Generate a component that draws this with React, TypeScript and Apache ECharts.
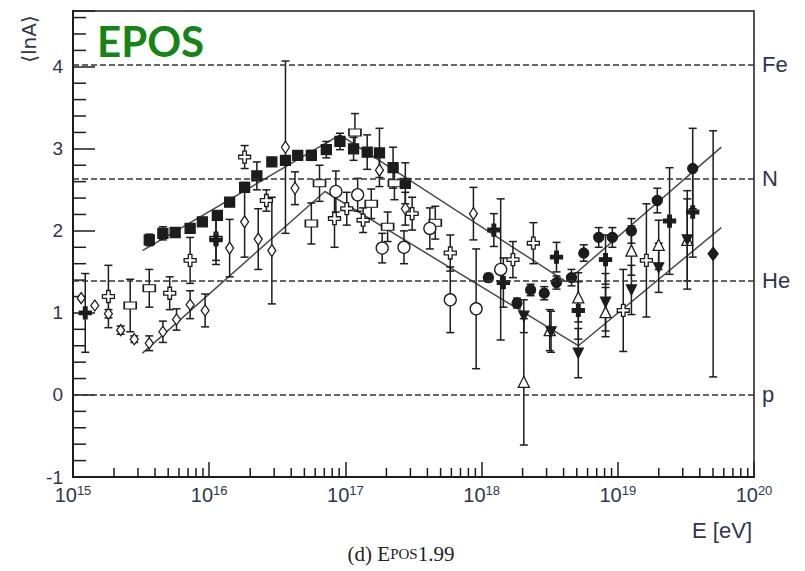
import React, { useEffect, useRef } from "react";
import * as echarts from "echarts";

// x values are log10(E / eV), y values are <lnA>, third entry is the error half-width
const xDecades = [15, 16, 17, 18, 19, 20];
const yTickValues = [-1, 0, 1, 2, 3, 4];
const compositionNames = ["Fe", "N", "He", "p"];
const compositionLnA = [4.025, 2.639, 1.386, 0];

const upperModel = [
  [15.51, 1.76],
  [16.96, 3.17],
  [18.62, 1.38],
  [19.76, 3.02],
];
const lowerModel = [
  [15.51, 0.51],
  [16.85, 2.48],
  [18.71, 0.6],
  [19.76, 2.04],
];

const filledSquares = [
  [15.56, 1.89, 0.07], [15.66, 1.97, 0.08], [15.75, 1.98, 0.04], [15.86, 2.03, 0.04],
  [15.95, 2.11, 0.04], [16.06, 2.19, 0.05], [16.15, 2.35, 0.05], [16.26, 2.53, 0.06],
  [16.35, 2.67, 0.17], [16.46, 2.84, 0.05], [16.56, 2.86, 0.05], [16.65, 2.92, 0.05],
  [16.75, 2.92, 0.06], [16.86, 2.99, 0.1], [16.96, 3.09, 0.1], [17.06, 3.0, 0.14],
  [17.16, 2.96, 0.21], [17.25, 2.95, 0.3], [17.35, 2.77, 0.25], [17.44, 2.58, 0.25],
];
const smallDiamonds = [
  [15.06, 1.18, 0], [15.16, 1.09, 0], [15.26, 0.99, 0.05], [15.35, 0.79, 0.05],
  [15.45, 0.68, 0.04], [15.56, 0.63, 0.09], [15.66, 0.77, 0.13], [15.76, 0.92, 0.13],
  [15.86, 1.1, 0.17], [15.97, 1.03, 0.2],
];
const openDiamonds = [
  [16.15, 1.79, 0.35], [16.26, 2.11, 0.43], [16.36, 1.9, 0.37], [16.46, 1.76, 0.65],
  [16.56, 3.02, 1.05], [16.63, 2.52, 0.2], [17.25, 2.74, 0.2], [17.44, 2.27, 0.2],
  [17.94, 2.21, 0.32],
];
const openCrosses = [
  [15.26, 1.2, 0.38], [15.71, 1.24, 0.2], [15.86, 1.64, 0.28], [16.05, 1.91, 0.27],
  [16.26, 2.9, 0.14], [16.42, 2.37, 0.13], [16.92, 2.15, 0.35], [17.01, 2.27, 0.2],
  [17.13, 2.13, 0.15], [17.49, 2.21, 0.2], [17.77, 1.73, 0.22], [18.23, 1.65, 0.22],
  [18.38, 1.85, 0.25], [19.04, 1.03, 0.5], [19.21, 1.64, 0.69],
];
const openRects = [
  [15.42, 1.09, 0.32], [15.56, 1.3, 0.23], [16.75, 2.09, 0.25], [16.81, 2.58, 0.22],
  [17.07, 3.2, 0.23], [17.19, 2.33, 0.18], [17.31, 2.05, 0.18], [17.36, 2.58, 0.2],
  [17.66, 2.1, 0.2],
];
const openCircles = [
  [16.93, 2.48, 0.25], [17.09, 2.44, 0.2], [17.27, 1.79, 0.18], [17.43, 1.8, 0.2],
  [17.62, 2.03, 0.25], [17.77, 1.16, 0.4], [17.96, 1.05, 0.73], [18.14, 1.53, 0.86],
];
const filledCircles = [
  [18.05, 1.43, 0.05], [18.26, 1.12, 0.06], [18.36, 1.28, 0.07], [18.46, 1.24, 0.08],
  [18.55, 1.37, 0.08], [18.66, 1.43, 0.1], [18.75, 1.73, 0.1], [18.86, 1.92, 0.12],
  [18.96, 1.92, 0.12], [19.1, 2.0, 0.15], [19.29, 2.37, 0.15], [19.55, 2.76, 0.49],
];
const filledCrosses = [
  [15.09, 1.0, 0.48], [16.05, 1.89, 0.3], [18.09, 2.01, 0.2], [18.16, 1.37, 0.3],
  [18.55, 1.68, 0.18], [18.71, 1.03, 0.35], [18.91, 1.65, 0.3], [19.38, 2.12, 0.65],
  [19.55, 2.23, 0.55],
];
const openTriangles = [
  [18.31, 0.16, 0.77], [18.5, 0.79, 0.25], [18.71, 1.19, 0.3], [18.91, 1.01, 0.3],
  [19.1, 1.76, 0.3], [19.3, 1.83, 0.3], [19.51, 1.89, 0.6],
];
const filledDownTriangles = [
  [18.31, 0.96, 0.2], [18.51, 0.77, 0.25], [18.71, 0.51, 0.3], [18.91, 1.13, 0.35],
  [19.1, 1.28, 0.3], [19.3, 1.55, 0.3], [19.51, 1.89, 0.5],
];
const filledDiamonds = [[19.7, 1.72, 1.5]];

const X_MIN = 15;
const X_MAX = 20;
const Y_MIN = -1;
const Y_MAX = 4.68;

const INK = "#1c1c1c";
const LABEL = "#2e3550";
const SANS = "'Liberation Sans', Arial, sans-serif";
const SERIF = "'Liberation Serif', 'DejaVu Serif', serif";
const CROSS = "path://M3.5,0H6.5V3.5H10V6.5H6.5V10H3.5V6.5H0V3.5H3.5Z";

const xMinorTicks: number[] = [];
for (let d = X_MIN; d < X_MAX; d++) {
  for (let k = 2; k <= 9; k++) xMinorTicks.push(d + Math.log10(k));
}
const yMinorTicks: number[] = [];
for (let i = Y_MIN; i <= 4; i++) {
  for (let j = 1; j <= 4; j++) {
    const v = i + 0.2 * j;
    if (v < Y_MAX) yMinorTicks.push(v);
  }
}

function errorBars(data: number[][]) {
  return {
    type: "custom",
    silent: true,
    z: 3,
    data: data.map((d) => [d[0], d[1], d[2]]),
    encode: { x: 0, y: 1 },
    renderItem: (params: any, api: any) => {
      const x = api.value(0);
      const y = api.value(1);
      const e = api.value(2);
      if (!e) return null;
      const top = api.coord([x, y + e]);
      const bot = api.coord([x, y - e]);
      const w = 4;
      const style = { stroke: INK, lineWidth: 1.5 };
      return {
        type: "group",
        children: [
          { type: "line", shape: { x1: top[0], y1: top[1], x2: bot[0], y2: bot[1] }, style },
          { type: "line", shape: { x1: top[0] - w, y1: top[1], x2: top[0] + w, y2: top[1] }, style },
          { type: "line", shape: { x1: bot[0] - w, y1: bot[1], x2: bot[0] + w, y2: bot[1] }, style },
        ],
      };
    },
  };
}

function markers(
  data: number[][],
  symbol: string,
  size: number | number[],
  fill: string,
  rotate = 0
) {
  return {
    type: "scatter",
    z: 4,
    silent: true,
    symbol,
    symbolSize: size,
    symbolRotate: rotate,
    data: data.map((d) => [d[0], d[1]]),
    itemStyle: { color: fill, borderColor: INK, borderWidth: 1.3, opacity: 1 },
  };
}

export default function App() {
  const ref = useRef<HTMLDivElement>(null);

  useEffect(() => {
    if (!ref.current) return;
    const chart = echarts.init(ref.current, null, { renderer: "svg" });

    const datasets: any[] = [
      [filledSquares, "rect", 10, INK, 0],
      [smallDiamonds, "diamond", [8, 11], "#ffffff", 0],
      [openDiamonds, "diamond", [8, 12], "#ffffff", 0],
      [openCrosses, CROSS, 12, "#ffffff", 0],
      [openRects, "rect", [12, 7], "#ffffff", 0],
      [openCircles, "circle", 12, "#ffffff", 0],
      [filledCircles, "circle", 10, INK, 0],
      [filledCrosses, CROSS, 12, INK, 0],
      [openTriangles, "triangle", 11, "#ffffff", 0],
      [filledDownTriangles, "triangle", 10, INK, 180],
      [filledDiamonds, "diamond", [10, 13], INK, 0],
    ];

    const series: any[] = [
      {
        type: "custom",
        silent: true,
        z: 2,
        data: xMinorTicks.map((v) => [v]),
        encode: { x: 0 },
        renderItem: (params: any, api: any) => {
          const p = api.coord([api.value(0), Y_MIN]);
          return {
            type: "line",
            shape: { x1: p[0], y1: p[1], x2: p[0], y2: p[1] - 9 },
            style: { stroke: INK, lineWidth: 1.5 },
          };
        },
      },
      {
        type: "custom",
        silent: true,
        z: 2,
        data: yMinorTicks.map((v) => [X_MIN, v]),
        encode: { x: 0, y: 1 },
        renderItem: (params: any, api: any) => {
          const p = api.coord([X_MIN, api.value(1)]);
          return {
            type: "line",
            shape: { x1: p[0], y1: p[1], x2: p[0] + 13, y2: p[1] },
            style: { stroke: INK, lineWidth: 1.5 },
          };
        },
      },
      {
        type: "line",
        silent: true,
        z: 2,
        data: upperModel,
        symbol: "none",
        lineStyle: { color: "#4a4a4a", width: 1.5 },
        markLine: {
          silent: true,
          symbol: ["none", "none"],
          lineStyle: { color: "#333333", width: 1.5, type: [6, 3] },
          label: {
            show: true,
            position: "end",
            distance: 8,
            formatter: "{b}",
            fontSize: 22,
            fontFamily: SANS,
            color: LABEL,
          },
          data: compositionNames.map((n, i) => ({ name: n, yAxis: compositionLnA[i] })),
        },
      },
      {
        type: "line",
        silent: true,
        z: 2,
        data: lowerModel,
        symbol: "none",
        lineStyle: { color: "#4a4a4a", width: 1.5 },
      },
    ];
    datasets.forEach((d) => series.push(errorBars(d[0])));
    datasets.forEach((d) => series.push(markers(d[0], d[1], d[2], d[3], d[4])));

    chart.setOption({
      animation: false,
      backgroundColor: "#ffffff",
      grid: {
        left: 73,
        right: 51,
        top: 11,
        bottom: 94,
        show: true,
        borderColor: INK,
        borderWidth: 1.5,
      },
      xAxis: {
        type: "value",
        min: X_MIN,
        max: X_MAX,
        interval: 1,
        axisLine: { show: true, onZero: false, lineStyle: { color: INK, width: 2 } },
        axisTick: { show: true, inside: true, length: 15, lineStyle: { color: INK, width: 1.5 } },
        splitLine: { show: false },
        axisLabel: {
          margin: 7,
          formatter: (v: number) => (xDecades.includes(v) ? `{b|10}{s|${v}}` : ""),
          rich: {
            b: { fontSize: 20, fontFamily: SANS, color: LABEL, lineHeight: 22 },
            s: { fontSize: 13, fontFamily: SANS, color: LABEL, lineHeight: 13, verticalAlign: "top" },
          },
        },
      },
      yAxis: {
        type: "value",
        min: Y_MIN,
        max: Y_MAX,
        interval: 1,
        axisLine: { show: true, onZero: false, lineStyle: { color: INK, width: 2 } },
        axisTick: { show: true, inside: true, length: 22, lineStyle: { color: INK, width: 1.5 } },
        splitLine: { show: false },
        axisLabel: {
          margin: 10,
          fontSize: 19,
          fontFamily: SANS,
          color: LABEL,
          formatter: (v: number) => (yTickValues.includes(v) ? String(v) : ""),
        },
      },
      graphic: [
        {
          type: "text",
          x: 97,
          y: 41,
          style: {
            text: "EPOS",
            fontFamily: "Lato, 'Open Sans', sans-serif",
            fontWeight: "bold",
            fontSize: 42,
            fill: "#138513",
            textVerticalAlign: "middle",
          },
        },
        {
          type: "text",
          x: 29,
          y: 39,
          rotation: Math.PI / 2,
          style: {
            text: "⟨lnA⟩",
            fontFamily: "'DejaVu Sans', sans-serif",
            fontSize: 20,
            fill: LABEL,
            textAlign: "center",
            textVerticalAlign: "middle",
          },
        },
        {
          type: "text",
          x: 752,
          y: 530,
          style: {
            text: "E [eV]",
            fontFamily: SANS,
            fontSize: 22,
            fill: LABEL,
            textAlign: "right",
            textVerticalAlign: "middle",
          },
        },
        {
          type: "text",
          x: 401,
          y: 554,
          style: {
            text: "(d) E{s|POS}1.99",
            fontFamily: SERIF,
            fontSize: 21,
            fill: "#222222",
            textAlign: "center",
            textVerticalAlign: "middle",
            rich: {
              s: { fontFamily: SERIF, fontSize: 15, fill: "#222222" },
            },
          },
        },
      ],
      series,
    });

    return () => chart.dispose();
  }, []);

  return (
    <div
      ref={ref}
      style={{ position: "absolute", left: 0, top: 0, width: 805, height: 571 }}
    />
  );
}
